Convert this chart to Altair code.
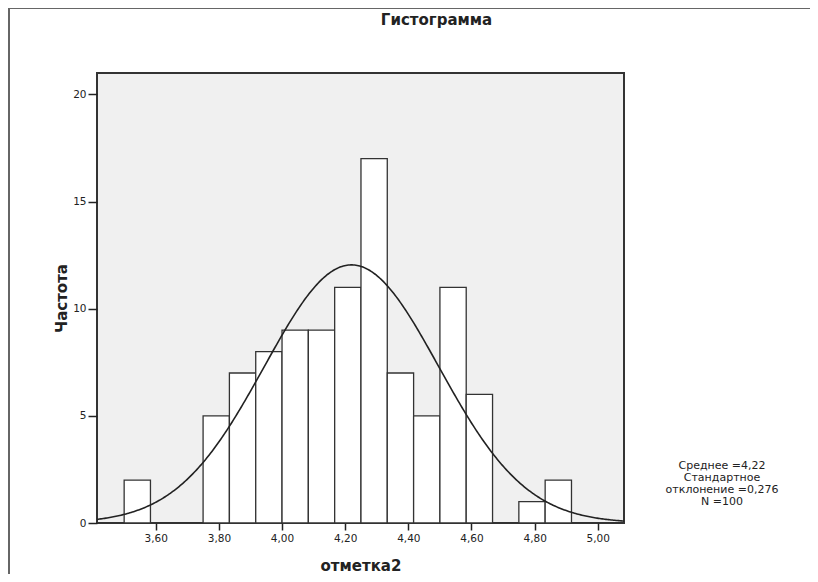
import altair as alt
import pandas as pd

# Histogram bins (bin width = 1/12) and their frequencies
bin_start = [3.5000, 3.7500, 3.8333, 3.9167, 4.0000, 4.0833, 4.1667,
             4.2500, 4.3333, 4.4167, 4.5000, 4.5833, 4.7500, 4.8333]
bin_end = [3.5833, 3.8333, 3.9167, 4.0000, 4.0833, 4.1667, 4.2500,
           4.3333, 4.4167, 4.5000, 4.5833, 4.6667, 4.8333, 4.9167]
counts = [2, 5, 7, 8, 9, 9, 11, 17, 7, 5, 11, 6, 1, 2]

# Summary statistics shown in the chart
mean = 4.22
sd = 0.276
n_total = 100
bin_width = 1 / 12

x_ticks = [3.6, 3.8, 4.0, 4.2, 4.4, 4.6, 4.8, 5.0]
y_ticks = [0, 5, 10, 15, 20]
x_domain = [3.414, 5.083]
y_domain = [0, 21]

stats_lines = ["Среднее =4,22", "Стандартное", "отклонение =0,276", "N =100"]

FONT = "DejaVu Sans"
DARK = "#222222"

bars_df = pd.DataFrame({"lo": bin_start, "hi": bin_end, "count": counts})

xscale = alt.Scale(domain=x_domain, nice=False, zero=False)
yscale = alt.Scale(domain=y_domain, nice=False)

x_axis = alt.Axis(values=x_ticks, title="отметка2",
                  labelExpr="replace(format(datum.value, '.2f'), '.', ',')",
                  grid=False, domain=False, tickSize=7, tickColor=DARK, tickWidth=1.5,
                  labelFont=FONT, labelFontSize=10.5, labelColor=DARK, labelPadding=3,
                  titleFont=FONT, titleFontSize=15, titleFontWeight="bold",
                  titleColor=DARK, titlePadding=15)
y_axis = alt.Axis(values=y_ticks, title="Частота",
                  grid=False, domain=False, tickSize=9, tickColor=DARK, tickWidth=1.5,
                  labelFont=FONT, labelFontSize=10.5, labelColor=DARK, labelPadding=2,
                  titleFont=FONT, titleFontSize=15, titleFontWeight="bold",
                  titleColor=DARK, titlePadding=3)

bars = alt.Chart(bars_df).mark_rect(fill="white", stroke="#333333", strokeWidth=1.3).encode(
    x=alt.X("lo:Q", scale=xscale, axis=x_axis),
    x2="hi:Q",
    y=alt.Y("count:Q", scale=yscale, axis=y_axis),
    y2=alt.datum(0),
)

curve = alt.Chart(alt.sequence(x_domain[0], x_domain[1] + 0.001, 0.004, as_="v")).transform_calculate(
    dens=f"{n_total * bin_width}/({sd}*sqrt(2*PI))*exp(-0.5*pow((datum.v-{mean})/{sd},2))"
).mark_line(color=DARK, strokeWidth=1.6).encode(
    x=alt.X("v:Q", scale=xscale),
    y=alt.Y("dens:Q", scale=yscale),
)

stats_df = pd.DataFrame({"t": ["\n".join(stats_lines)]})
stats = alt.Chart(stats_df).mark_text(font=FONT, fontSize=11, color=DARK,
                                      align="center", baseline="top",
                                      lineBreak="\n", lineHeight=12).encode(
    text="t:N",
    x=alt.value(625),
    y=alt.value(387),
)

frame_top = alt.Chart(pd.DataFrame({"a": [0]})).mark_rule(color="#666666", strokeWidth=2).encode(
    x=alt.value(-88), x2=alt.value(713), y=alt.value(-65), y2=alt.value(-65))
frame_left = alt.Chart(pd.DataFrame({"a": [0]})).mark_rule(color="#666666", strokeWidth=2).encode(
    x=alt.value(-88), x2=alt.value(-88), y=alt.value(-65), y2=alt.value(520))

chart = alt.layer(bars, curve, stats, frame_top, frame_left).properties(
    width=527, height=450,
    background="white",
    title=alt.TitleParams("Гистограмма", font=FONT, fontSize=15, fontWeight="bold",
                          color=DARK, anchor="middle", dx=76, offset=-21),
    autosize=alt.AutoSizeParams(type="none"),
    padding={"left": 89, "top": 65, "right": 186, "bottom": 51},
).configure_view(
    fill="#f0f0f0", stroke="#333333", strokeWidth=2
)

chart.save("out.html", embed_options={"renderer": "svg", "actions": False})
